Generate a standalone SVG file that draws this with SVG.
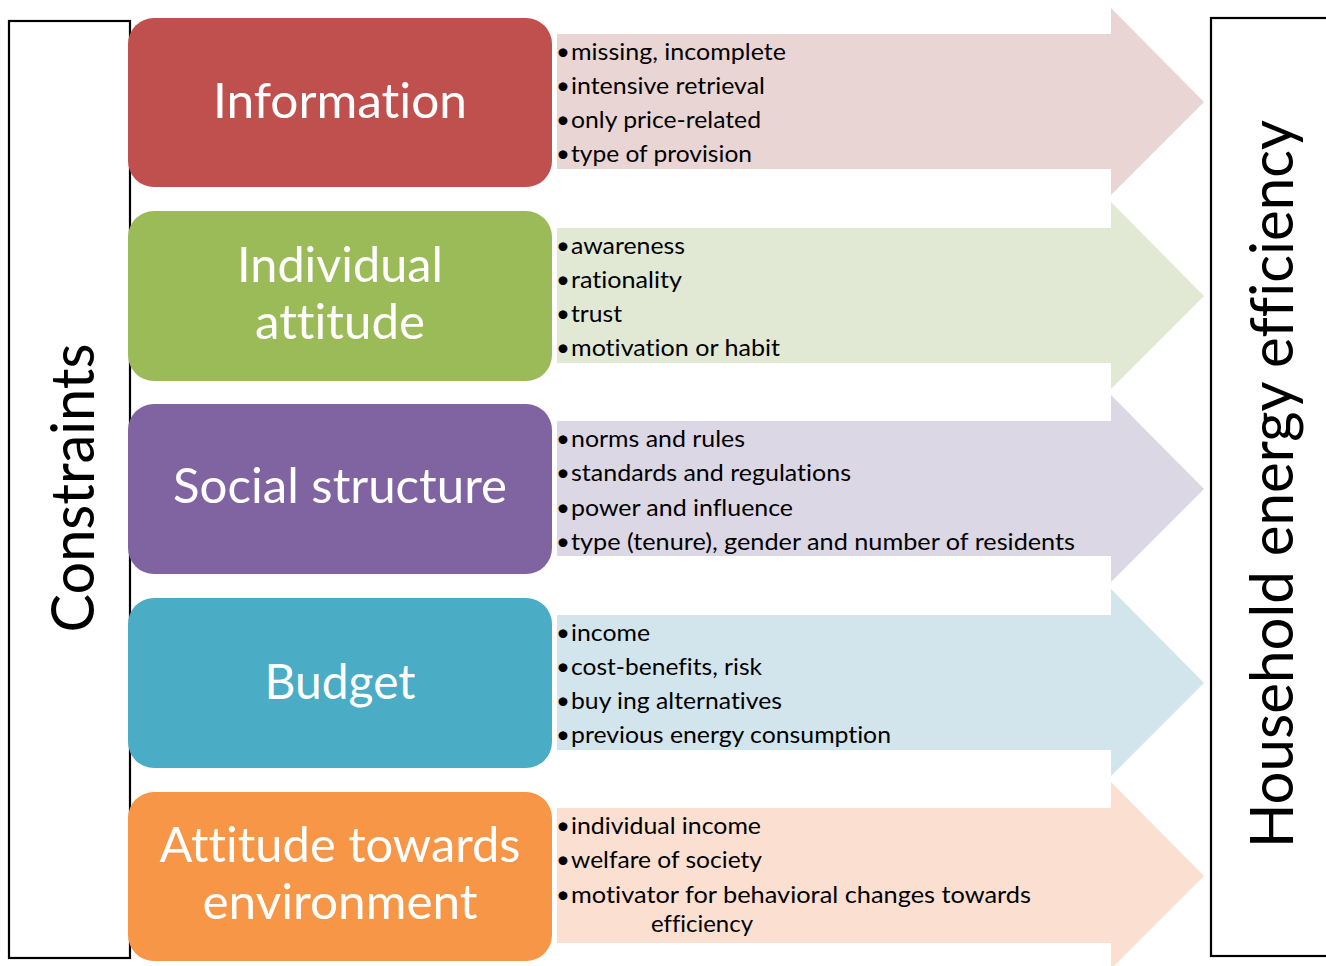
<svg xmlns="http://www.w3.org/2000/svg" width="1326" height="966" viewBox="0 0 1326 966">
<style>
text{font-variant-ligatures:none;font-feature-settings:"liga" 0,"clig" 0}
.frame{fill:#fff;stroke:#000;stroke-width:2.2}
.title{font-family:Lato,"Open Sans",sans-serif;font-size:48px;fill:#fff;text-anchor:middle}
.side{font-family:Lato,"Open Sans",sans-serif;font-size:60px;fill:#000;text-anchor:middle}
.item{font-family:Lato,"Open Sans",sans-serif;font-size:23px;fill:#000}
.b{font-size:24px}
</style>
<defs>
<path id="arrow" d="M557,-68 H1111 V-94 L1204,0 L1111,93 V67 H557 Z"/>
</defs>
<rect width="1326" height="966" fill="#fff"/>
<g id="connectors">
<use href="#arrow" transform="translate(0,102)" fill="#EAD5D5"/>
<use href="#arrow" transform="translate(0,296)" fill="#E1E9D5"/>
<use href="#arrow" transform="translate(0,489)" fill="#DCD7E4"/>
<use href="#arrow" transform="translate(0,683)" fill="#D3E5EC"/>
<use href="#arrow" transform="translate(0,876)" fill="#FBDFD1"/>
</g>
<g id="constraints">
<rect class="frame" x="9" y="21" width="121" height="937"/>
<text class="side" transform="translate(94,488) rotate(-90)" textLength="289" lengthAdjust="spacingAndGlyphs">Constraints</text>
</g>
<g id="household">
<rect class="frame" x="1211" y="18" width="130" height="938"/>
<text class="side" transform="translate(1293,484) rotate(-90)" textLength="728" lengthAdjust="spacingAndGlyphs">Household energy efficiency</text>
</g>
<g id="information">
<rect x="128" y="18" width="424" height="169" rx="26" fill="#C0504D"/>
<text class="title" x="340" y="118" textLength="254" lengthAdjust="spacingAndGlyphs">Information</text>
<text class="item"><tspan class="b" x="556" y="60">•</tspan><tspan x="571" y="60" textLength="215" lengthAdjust="spacingAndGlyphs">missing, incomplete</tspan></text>
<text class="item"><tspan class="b" x="556" y="94">•</tspan><tspan x="571" y="94" textLength="194" lengthAdjust="spacingAndGlyphs">intensive retrieval</tspan></text>
<text class="item"><tspan class="b" x="556" y="128">•</tspan><tspan x="571" y="128" textLength="190" lengthAdjust="spacingAndGlyphs">only price-related</tspan></text>
<text class="item"><tspan class="b" x="556" y="162">•</tspan><tspan x="571" y="162" textLength="181" lengthAdjust="spacingAndGlyphs">type of provision</tspan></text>
</g>
<g id="individual-attitude">
<rect x="128" y="211" width="424" height="170" rx="26" fill="#9BBB59"/>
<text class="title" x="340" y="282" textLength="206" lengthAdjust="spacingAndGlyphs">Individual</text>
<text class="title" x="340" y="339" textLength="170" lengthAdjust="spacingAndGlyphs">attitude</text>
<text class="item"><tspan class="b" x="556" y="254">•</tspan><tspan x="571" y="254" textLength="114" lengthAdjust="spacingAndGlyphs">awareness</tspan></text>
<text class="item"><tspan class="b" x="556" y="288">•</tspan><tspan x="571" y="288" textLength="111" lengthAdjust="spacingAndGlyphs">rationality</tspan></text>
<text class="item"><tspan class="b" x="556" y="322">•</tspan><tspan x="571" y="322" textLength="51" lengthAdjust="spacingAndGlyphs">trust</tspan></text>
<text class="item"><tspan class="b" x="556" y="356">•</tspan><tspan x="571" y="356" textLength="209" lengthAdjust="spacingAndGlyphs">motivation or habit</tspan></text>
</g>
<g id="social-structure">
<rect x="128" y="404" width="424" height="170" rx="26" fill="#8064A2"/>
<text class="title" x="340" y="503" textLength="334" lengthAdjust="spacingAndGlyphs">Social structure</text>
<text class="item"><tspan class="b" x="556" y="447">•</tspan><tspan x="571" y="447" textLength="174" lengthAdjust="spacingAndGlyphs">norms and rules</tspan></text>
<text class="item"><tspan class="b" x="556" y="481">•</tspan><tspan x="571" y="481" textLength="280" lengthAdjust="spacingAndGlyphs">standards and regulations</tspan></text>
<text class="item"><tspan class="b" x="556" y="516">•</tspan><tspan x="571" y="516" textLength="222" lengthAdjust="spacingAndGlyphs">power and influence</tspan></text>
<text class="item"><tspan class="b" x="556" y="550">•</tspan><tspan x="571" y="550" textLength="504" lengthAdjust="spacingAndGlyphs">type (tenure), gender and number of residents</tspan></text>
</g>
<g id="budget">
<rect x="128" y="598" width="424" height="170" rx="26" fill="#4BACC6"/>
<text class="title" x="340" y="699" textLength="151" lengthAdjust="spacingAndGlyphs">Budget</text>
<text class="item"><tspan class="b" x="556" y="641">•</tspan><tspan x="571" y="641" textLength="79" lengthAdjust="spacingAndGlyphs">income</tspan></text>
<text class="item"><tspan class="b" x="556" y="675">•</tspan><tspan x="571" y="675" textLength="191" lengthAdjust="spacingAndGlyphs">cost-benefits, risk</tspan></text>
<text class="item"><tspan class="b" x="556" y="709">•</tspan><tspan x="571" y="709" textLength="211" lengthAdjust="spacingAndGlyphs">buy ing alternatives</tspan></text>
<text class="item"><tspan class="b" x="556" y="743">•</tspan><tspan x="571" y="743" textLength="320" lengthAdjust="spacingAndGlyphs">previous energy consumption</tspan></text>
</g>
<g id="attitude-towards-environment">
<rect x="128" y="792" width="424" height="169" rx="26" fill="#F79646"/>
<text class="title" x="340" y="862" textLength="361" lengthAdjust="spacingAndGlyphs">Attitude towards</text>
<text class="title" x="340" y="919" textLength="275" lengthAdjust="spacingAndGlyphs">environment</text>
<text class="item"><tspan class="b" x="556" y="834">•</tspan><tspan x="571" y="834" textLength="190" lengthAdjust="spacingAndGlyphs">individual income</tspan></text>
<text class="item"><tspan class="b" x="556" y="868">•</tspan><tspan x="571" y="868" textLength="191" lengthAdjust="spacingAndGlyphs">welfare of society</tspan></text>
<text class="item"><tspan class="b" x="556" y="903">•</tspan><tspan x="571" y="903" textLength="460" lengthAdjust="spacingAndGlyphs">motivator for behavioral changes  towards</tspan></text>
<text class="item" x="651" y="932" textLength="102" lengthAdjust="spacingAndGlyphs">efficiency</text>
</g>
</svg>
